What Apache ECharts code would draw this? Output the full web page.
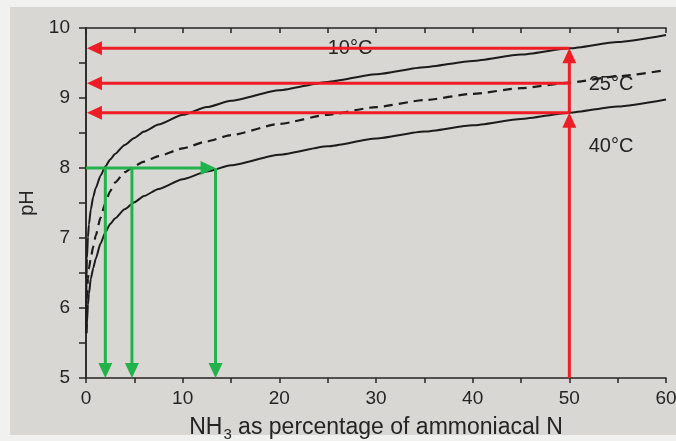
<!DOCTYPE html>
<html><head><meta charset="utf-8">
<script src="https://cdn.jsdelivr.net/npm/echarts@6/dist/echarts.min.js"></script>
<style>
html,body{margin:0;padding:0;background:#f1f1ef;}
#paper{position:absolute;left:10px;top:7px;width:666px;height:428px;background:#d9d7d3;}
#chart{position:absolute;left:0;top:0;width:676px;height:441px;}
</style></head><body>
<div id="paper"></div><div id="chart"></div>
<script>
// ---- data ----
const x10 = [0.01, 0.05, 0.1, 0.2, 0.3, 0.5, 0.75, 1, 1.5, 2, 2.5, 3, 4, 5, 6, 7.5, 10, 12.5, 15, 20, 25, 30, 35, 40, 45, 50, 55, 60];
const ph10 = [5.65, 6.41, 6.71, 7.01, 7.19, 7.41, 7.59, 7.71, 7.89, 8.02, 8.12, 8.2, 8.33, 8.43, 8.52, 8.62, 8.76, 8.87, 8.96, 9.11, 9.23, 9.34, 9.44, 9.53, 9.62, 9.71, 9.8, 9.9];

const x25 = [0.03, 0.1, 0.2, 0.3, 0.5, 0.75, 1, 1.5, 2, 2.5, 3, 4, 5, 6, 7.5, 10, 12.5, 15, 20, 25, 30, 35, 40, 45, 50, 55, 60];
const ph25 = [5.7, 6.15, 6.42, 6.56, 6.72, 6.88, 7.03, 7.29, 7.5, 7.67, 7.79, 7.94, 8.03, 8.09, 8.17, 8.28, 8.38, 8.47, 8.63, 8.76, 8.87, 8.97, 9.06, 9.14, 9.22, 9.31, 9.4];

const x40 = [0.07, 0.1, 0.2, 0.3, 0.5, 0.75, 1, 1.5, 2, 2.5, 3, 4, 5, 6, 7.5, 10, 12.5, 15, 20, 25, 30, 35, 40, 45, 50, 55, 60];
const ph40 = [5.64, 5.79, 6.05, 6.2, 6.42, 6.57, 6.7, 6.92, 7.08, 7.2, 7.28, 7.41, 7.51, 7.6, 7.7, 7.84, 7.95, 8.04, 8.19, 8.31, 8.42, 8.52, 8.61, 8.7, 8.79, 8.88, 8.98];

const curveLabels = ['10°C', '25°C', '40°C'];

// arrows: [fromX, fromPH, toX, toPH] (head at "to")
const redArrows = [
  [50, 5, 50, 8.79],
  [50, 8.79, 50, 9.71],
  [50, 9.71, 0.1, 9.71],
  [50, 9.21, 0.1, 9.21],
  [50, 8.79, 0.1, 8.79]
];
const greenArrows = [
  [0, 8, 13.4, 8],
  [2, 8, 2, 5],
  [4.75, 8, 4.75, 5],
  [13.4, 8, 13.4, 5]
];

const xTitle = '{n|NH}{sub|3}{n| as percentage of ammoniacal N}';
const yTitle = 'pH';

// ---- chart ----
const FONT = "'Liberation Sans', Arial, Helvetica, sans-serif";
const INK = '#242424';
const chart = echarts.init(document.getElementById('chart'), null, {renderer: 'canvas'});

function pairs(xs, ys) { return xs.map((x, i) => [x, ys[i]]); }

function arrowRenderer(color) {
  return function (params, api) {
    const p1 = api.coord([api.value(0), api.value(1)]);
    const p2 = api.coord([api.value(2), api.value(3)]);
    const dx = p2[0] - p1[0], dy = p2[1] - p1[1];
    const len = Math.sqrt(dx * dx + dy * dy) || 1;
    const ux = dx / len, uy = dy / len;
    const L = 15, W = 7;
    const bx = p2[0] - ux * L, by = p2[1] - uy * L;
    return {
      type: 'group',
      children: [
        {type: 'line', shape: {x1: p1[0], y1: p1[1], x2: bx + ux * 2, y2: by + uy * 2},
         style: {stroke: color, lineWidth: 3}},
        {type: 'polygon', shape: {points: [[p2[0], p2[1]], [bx - uy * W, by + ux * W], [bx + uy * W, by - ux * W]]},
         style: {fill: color}}
      ]
    };
  };
}

const axisLineStyle = {color: INK, width: 1.5};

const option = {
  animation: false,
  backgroundColor: 'transparent',
  textStyle: {fontFamily: FONT},
  grid: {left: 86, right: 10, top: 28, bottom: 63, containLabel: false, outerBoundsMode: 'none'},
  xAxis: [
    {
      type: 'value', position: 'bottom', min: 0, max: 60, interval: 5,
      axisLine: {show: true, lineStyle: axisLineStyle},
      axisTick: {show: true, inside: false, length: 5, lineStyle: axisLineStyle},
      splitLine: {show: false},
      axisLabel: {margin: 11, fontSize: 19, color: INK, fontFamily: FONT,
        formatter: v => (v % 10 === 0 ? String(v) : '')},
      name: xTitle, nameLocation: 'middle', nameGap: 38,
      nameTextStyle: {fontSize: 23, color: INK, fontFamily: FONT,
        rich: {
          n: {fontSize: 23, lineHeight: 23, fontFamily: FONT, color: INK, verticalAlign: 'top'},
          sub: {fontSize: 15, lineHeight: 15, fontFamily: FONT, color: INK, verticalAlign: 'top', padding: [11, 0, 0, 1]}
        }}
    },
    {
      type: 'value', position: 'top', min: 0, max: 60, interval: 5,
      axisLine: {show: true, lineStyle: axisLineStyle},
      axisTick: {show: true, inside: true, length: 5, lineStyle: axisLineStyle},
      splitLine: {show: false}, axisLabel: {show: false}
    }
  ],
  yAxis: [
    {
      type: 'value', position: 'left', min: 5, max: 10, interval: 0.5,
      axisLine: {show: true, lineStyle: axisLineStyle},
      axisTick: {show: true, inside: false, length: 7, lineStyle: axisLineStyle},
      splitLine: {show: false},
      axisLabel: {margin: 16, fontSize: 19, color: INK, fontFamily: FONT,
        formatter: v => (Number.isInteger(v) ? String(v) : '')},
      name: yTitle, nameLocation: 'middle', nameGap: 48,
      nameTextStyle: {fontSize: 20, color: INK, fontFamily: FONT}
    },
    {
      type: 'value', position: 'right', min: 5, max: 10, interval: 0.5,
      axisLine: {show: true, lineStyle: axisLineStyle},
      axisTick: {show: true, inside: true, length: 7, lineStyle: axisLineStyle},
      splitLine: {show: false}, axisLabel: {show: false}
    }
  ],
  graphic: [
    {type: 'text', x: 350, y: 48, z: 1, style: {text: curveLabels[0], font: '20px ' + FONT, fill: INK, align: 'center', verticalAlign: 'middle'}},
    {type: 'text', x: 611, y: 84, z: 1, style: {text: curveLabels[1], font: '20px ' + FONT, fill: INK, align: 'center', verticalAlign: 'middle'}},
    {type: 'text', x: 611, y: 146, z: 1, style: {text: curveLabels[2], font: '20px ' + FONT, fill: INK, align: 'center', verticalAlign: 'middle'}}
  ],
  series: [
    {name: curveLabels[0], type: 'line', data: pairs(x10, ph10), showSymbol: false, smooth: 0.2, smoothMonotone: 'x',
     lineStyle: {color: '#1c1c1c', width: 2}, z: 3, silent: true},
    {name: curveLabels[1], type: 'line', data: pairs(x25, ph25), showSymbol: false, smooth: 0.2, smoothMonotone: 'x',
     lineStyle: {color: '#1c1c1c', width: 2.2, type: [9, 6]}, z: 3, silent: true},
    {name: curveLabels[2], type: 'line', data: pairs(x40, ph40), showSymbol: false, smooth: 0.2, smoothMonotone: 'x',
     lineStyle: {color: '#1c1c1c', width: 2}, z: 3, silent: true},
    {type: 'custom', renderItem: arrowRenderer('#ee1c25'), data: redArrows,
     encode: {x: [0, 2], y: [1, 3]}, clip: false, z: 6, silent: true},
    {type: 'custom', renderItem: arrowRenderer('#22b24c'), data: greenArrows,
     encode: {x: [0, 2], y: [1, 3]}, clip: false, z: 6, silent: true}
  ]
};
chart.setOption(option);
</script>
</body></html>
